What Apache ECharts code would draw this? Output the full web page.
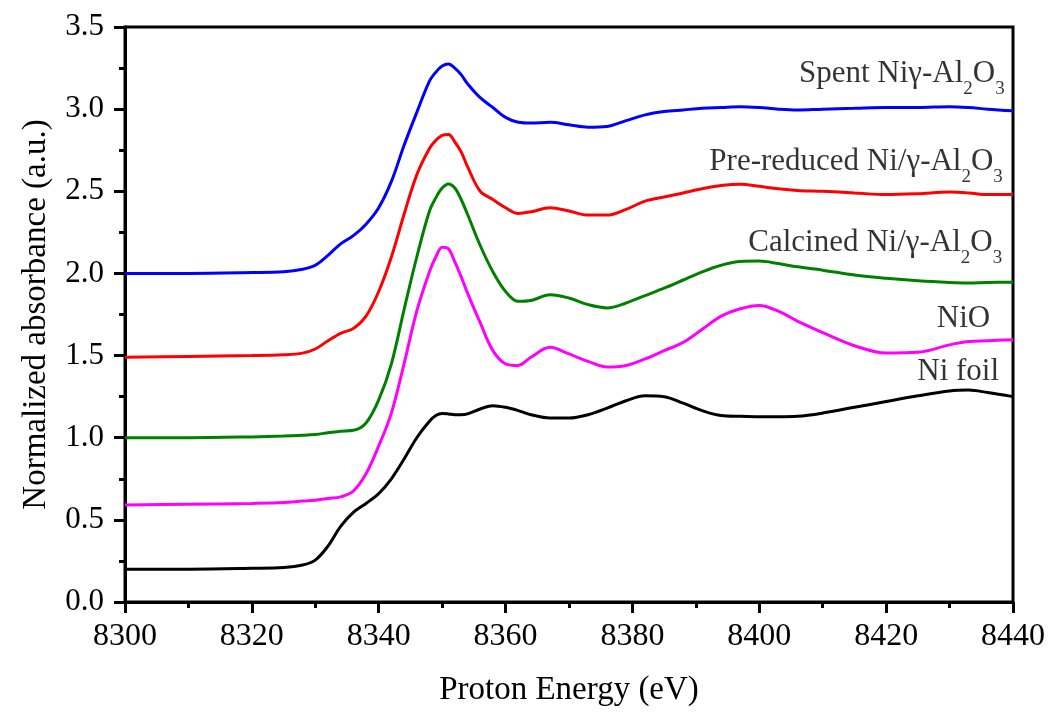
<!DOCTYPE html>
<html>
<head>
<meta charset="utf-8">
<script src="https://cdn.jsdelivr.net/npm/echarts@6/dist/echarts.min.js"></script>
<style>
html,body{margin:0;padding:0;background:#fff;}
#chart{width:1050px;height:713px;}
</style>
</head>
<body>
<div id="chart"></div>
<script>
// Energy grid (eV)
const energy = [8300, 8310, 8320, 8325, 8328, 8330, 8332, 8334, 8336, 8338, 8340, 8342, 8344, 8346, 8348, 8349, 8350, 8351, 8352, 8353, 8354, 8356, 8358, 8360, 8362, 8364, 8367, 8370, 8373, 8376, 8379, 8382, 8385, 8388, 8391, 8394, 8397, 8400, 8403, 8406, 8410, 8415, 8420, 8425, 8430, 8433, 8436, 8440];

const spent = [2.00, 2.00, 2.005, 2.01, 2.025, 2.05, 2.11, 2.18, 2.23, 2.30, 2.40, 2.56, 2.78, 2.98, 3.17, 3.225, 3.262, 3.275, 3.25, 3.21, 3.155, 3.07, 3.01, 2.95, 2.92, 2.915, 2.92, 2.905, 2.89, 2.895, 2.93, 2.965, 2.985, 2.995, 3.005, 3.01, 3.015, 3.01, 3.0, 2.995, 3.0, 3.005, 3.01, 3.01, 3.015, 3.01, 3.0, 2.99];

const prereduced = [1.49, 1.495, 1.50, 1.505, 1.515, 1.54, 1.59, 1.635, 1.665, 1.74, 1.89, 2.10, 2.36, 2.60, 2.76, 2.81, 2.84, 2.845, 2.80, 2.74, 2.65, 2.50, 2.45, 2.40, 2.365, 2.375, 2.40, 2.38, 2.355, 2.355, 2.39, 2.44, 2.465, 2.49, 2.515, 2.535, 2.543, 2.53, 2.515, 2.505, 2.50, 2.49, 2.48, 2.485, 2.495, 2.49, 2.48, 2.48];

const calcined = [1.00, 1.00, 1.005, 1.01, 1.015, 1.02, 1.03, 1.04, 1.045, 1.09, 1.23, 1.45, 1.78, 2.10, 2.38, 2.46, 2.52, 2.545, 2.52, 2.45, 2.36, 2.17, 2.01, 1.89, 1.83, 1.835, 1.87, 1.85, 1.81, 1.79, 1.82, 1.865, 1.91, 1.96, 2.01, 2.05, 2.073, 2.075, 2.06, 2.04, 2.02, 1.99, 1.97, 1.955, 1.945, 1.942, 1.945, 1.946];

const nio = [0.59, 0.595, 0.60, 0.605, 0.615, 0.62, 0.63, 0.64, 0.675, 0.78, 0.95, 1.15, 1.45, 1.77, 2.01, 2.10, 2.16, 2.15, 2.07, 1.98, 1.88, 1.70, 1.53, 1.45, 1.44, 1.49, 1.55, 1.51, 1.465, 1.43, 1.44, 1.48, 1.53, 1.58, 1.66, 1.74, 1.785, 1.805, 1.77, 1.71, 1.64, 1.56, 1.515, 1.52, 1.565, 1.585, 1.59, 1.597];

const nifoil = [0.20, 0.20, 0.205, 0.21, 0.225, 0.255, 0.34, 0.46, 0.545, 0.60, 0.66, 0.75, 0.87, 1.00, 1.10, 1.135, 1.148, 1.145, 1.14, 1.14, 1.145, 1.175, 1.195, 1.185, 1.165, 1.14, 1.12, 1.12, 1.14, 1.18, 1.225, 1.255, 1.25, 1.21, 1.165, 1.135, 1.13, 1.128, 1.127, 1.13, 1.15, 1.185, 1.22, 1.255, 1.285, 1.29, 1.275, 1.25];

// Text annotations (right-aligned, data coordinates)
const labelTexts = [
  '{a|Spent Niγ-Al}{s|2}{a|O}{s|3}',
  '{a|Pre-reduced Ni/γ-Al}{s|2}{a|O}{s|3}',
  '{a|Calcined Ni/γ-Al}{s|2}{a|O}{s|3}',
  '{a|NiO}',
  '{a|Ni foil}'
];
const labelX = [8438.7, 8438.4, 8438.3, 8436.4, 8437.8];
const labelY = [3.20, 2.665, 2.17, 1.71, 1.385];

const colors = ['#0000ff', '#ff0000', '#008000', '#ff00ff', '#000000'];
const seriesNames = ['Spent Ni/γ-Al2O3', 'Pre-reduced Ni/γ-Al2O3', 'Calcined Ni/γ-Al2O3', 'NiO', 'Ni foil'];
const seriesValues = [spent, prereduced, calcined, nio, nifoil];

const FONT = '"Liberation Serif", "Times New Roman", serif';

const lineSeries = seriesValues.map((vals, i) => ({
  name: seriesNames[i],
  type: 'line',
  data: energy.map((e, j) => [e, vals[j]]),
  smooth: 0.35,
  showSymbol: false,
  lineStyle: { color: colors[i], width: 3 },
  itemStyle: { color: colors[i] },
  z: 3
}));

const labelSeries = {
  type: 'scatter',
  data: labelX.map((x, i) => ({ value: [x, labelY[i]], text: labelTexts[i] })),
  symbolSize: 0,
  silent: true,
  z: 5,
  label: {
    show: true,
    position: 'left',
    distance: 0,
    formatter: p => p.data.text,
    rich: {
      a: { fontFamily: FONT, fontSize: 31, color: '#000', lineHeight: 36, verticalAlign: 'top' },
      s: { fontFamily: FONT, fontSize: 19, color: '#000', lineHeight: 16, verticalAlign: 'top', padding: [21, 0, 0, 0] }
    }
  }
};

const chart = echarts.init(document.getElementById('chart'));
chart.setOption({
  backgroundColor: '#fff',
  animation: false,
  grid: { left: 125, right: 37, top: 27, bottom: 111, show: true, borderColor: '#000', borderWidth: 3, backgroundColor: 'transparent' },
  xAxis: {
    type: 'value',
    min: 8300, max: 8440, interval: 20,
    name: 'Proton Energy (eV)',
    nameLocation: 'middle',
    nameGap: 72,
    nameTextStyle: { fontFamily: FONT, fontSize: 33, color: '#000' },
    axisLine: { show: true, lineStyle: { color: '#000', width: 3 } },
    axisTick: { show: true, inside: false, length: 11, lineStyle: { color: '#000', width: 3 } },
    minorTick: { show: true, splitNumber: 2, length: 6, lineStyle: { color: '#000', width: 3 } },
    splitLine: { show: false },
    axisLabel: { fontFamily: FONT, fontSize: 32, color: '#000', margin: 19, formatter: v => String(v) }
  },
  yAxis: {
    type: 'value',
    min: 0, max: 3.5, interval: 0.5,
    name: 'Normalized absorbance (a.u.)',
    nameLocation: 'middle',
    nameGap: 72,
    nameTextStyle: { fontFamily: FONT, fontSize: 33, color: '#000' },
    axisLine: { show: true, lineStyle: { color: '#000', width: 3 } },
    axisTick: { show: true, inside: false, length: 11, lineStyle: { color: '#000', width: 3 } },
    minorTick: { show: true, splitNumber: 2, length: 6, lineStyle: { color: '#000', width: 3 } },
    splitLine: { show: false },
    axisLabel: { fontFamily: FONT, fontSize: 31, color: '#000', margin: 21, formatter: v => v.toFixed(1) }
  },
  series: [...lineSeries, labelSeries]
});
</script>
</body>
</html>
